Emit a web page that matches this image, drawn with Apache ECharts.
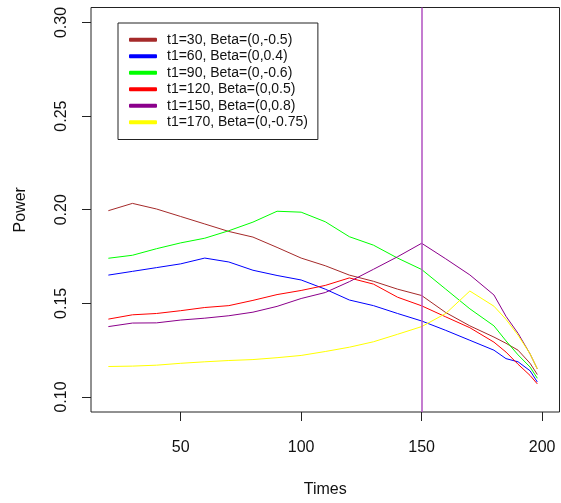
<!DOCTYPE html>
<html>
<head>
<meta charset="utf-8">
<script src="https://cdn.jsdelivr.net/npm/echarts@6/dist/echarts.min.js"></script>
<style>
html,body{margin:0;padding:0;background:#fff;}
#chart{width:561px;height:503px;}
</style>
</head>
<body>
<div id="chart"></div>
<script>
const times = [20,30,40,50,60,70,80,90,100,110,120,130,140,150,160,170,180,185,190,195,198];
const seriesNames = ["t1=30, Beta=(0,-0.5)","t1=60, Beta=(0,0.4)","t1=90, Beta=(0,-0.6)","t1=120, Beta=(0,0.5)","t1=150, Beta=(0,0.8)","t1=170, Beta=(0,-0.75)"];
const brown  = [0.1995,0.2034,0.2004,0.1964,0.1924,0.1884,0.1854,0.1799,0.1742,0.1701,0.1651,0.1618,0.1576,0.1542,0.1451,0.1380,0.1320,0.1287,0.1250,0.1180,0.1120];
const blue   = [0.1651,0.1671,0.1691,0.1711,0.1742,0.1721,0.1677,0.1649,0.1625,0.1576,0.1518,0.1488,0.1446,0.1406,0.1356,0.1303,0.1250,0.1205,0.1188,0.1140,0.1080];
const green  = [0.1741,0.1757,0.1792,0.1823,0.1848,0.1888,0.1934,0.1992,0.1987,0.1936,0.1856,0.1811,0.1742,0.1681,0.1576,0.1471,0.1380,0.1300,0.1225,0.1160,0.1100];
const red    = [0.1416,0.1439,0.1446,0.1461,0.1478,0.1488,0.1516,0.1547,0.1569,0.1596,0.1636,0.1603,0.1533,0.1487,0.1428,0.1370,0.1293,0.1240,0.1175,0.1115,0.1070];
const purple = [0.1376,0.1395,0.1396,0.1411,0.1421,0.1434,0.1453,0.1484,0.1526,0.1558,0.1616,0.1682,0.1749,0.1821,0.1738,0.1652,0.1545,0.1431,0.1340,0.1230,0.1150];
const yellow = [0.1163,0.1165,0.1170,0.1180,0.1188,0.1195,0.1200,0.1210,0.1222,0.1243,0.1266,0.1295,0.1335,0.1376,0.1446,0.1566,0.1485,0.1415,0.1330,0.1230,0.1150];
const xTicks = [50,100,150,200];
const yTicks = [0.10,0.15,0.20,0.25,0.30];
const vLineAt = 150;

const colors = ['#a52a2a','#0000ff','#00ff00','#ff0000','#8b008b','#ffff00'];
const values = [brown, blue, green, red, purple, yellow];

const series = values.map((v, i) => ({
  name: seriesNames[i],
  type: 'line',
  data: times.map((t, j) => [t, v[j]]),
  showSymbol: false,
  symbol: 'none',
  color: colors[i],
  lineStyle: {width: 1, color: colors[i]},
  animation: false
}));
series[series.length - 1].markLine = {
  silent: true,
  symbol: 'none',
  label: {show: false},
  lineStyle: {color: '#b050c0', width: 1.5, type: 'solid'},
  data: [{xAxis: vLineAt}],
  animation: false
};

const chart = echarts.init(document.getElementById('chart'));
chart.setOption({
  animation: false,
  backgroundColor: '#fff',
  textStyle: {fontFamily: 'Liberation Sans, Arial, sans-serif'},
  grid: {left: 91, top: 7.5, right: 1.5, bottom: 88, show: true, borderColor: '#222', borderWidth: 1, backgroundColor: 'transparent'},
  legend: {
    orient: 'vertical',
    left: 118, top: 23,
    padding: [8.5, 10, 9, 11],
    borderColor: '#222', borderWidth: 1,
    itemWidth: 28, itemHeight: 4, itemGap: 0,
    icon: 'roundRect',
    textStyle: {fontSize: 14, color: '#111', lineHeight: 16.5, padding: [0,0,0,5], fontFamily: 'Liberation Sans, Arial, sans-serif'},
    data: seriesNames
  },
  xAxis: {
    type: 'value', min: 12.8, max: 207.2,
    name: 'Times', nameLocation: 'middle', nameGap: 70,
    nameTextStyle: {fontSize: 16, color: '#111'},
    axisLine: {show: false},
    splitLine: {show: false},
    axisTick: {show: true, length: 9, customValues: xTicks, lineStyle: {color: '#222'}},
    axisLabel: {fontSize: 16, color: '#111', margin: 28, customValues: xTicks}
  },
  yAxis: {
    type: 'value', min: 0.092, max: 0.308,
    name: 'Power', nameLocation: 'middle', nameGap: 62, nameRotate: 90,
    nameTextStyle: {fontSize: 16, color: '#111'},
    axisLine: {show: false},
    splitLine: {show: false},
    axisTick: {show: true, length: 9, customValues: yTicks, lineStyle: {color: '#222'}},
    axisLabel: {fontSize: 16, color: '#111', margin: 21, rotate: 90, customValues: yTicks,
      formatter: v => v.toFixed(2)}
  },
  series: series
});
</script>
</body>
</html>
